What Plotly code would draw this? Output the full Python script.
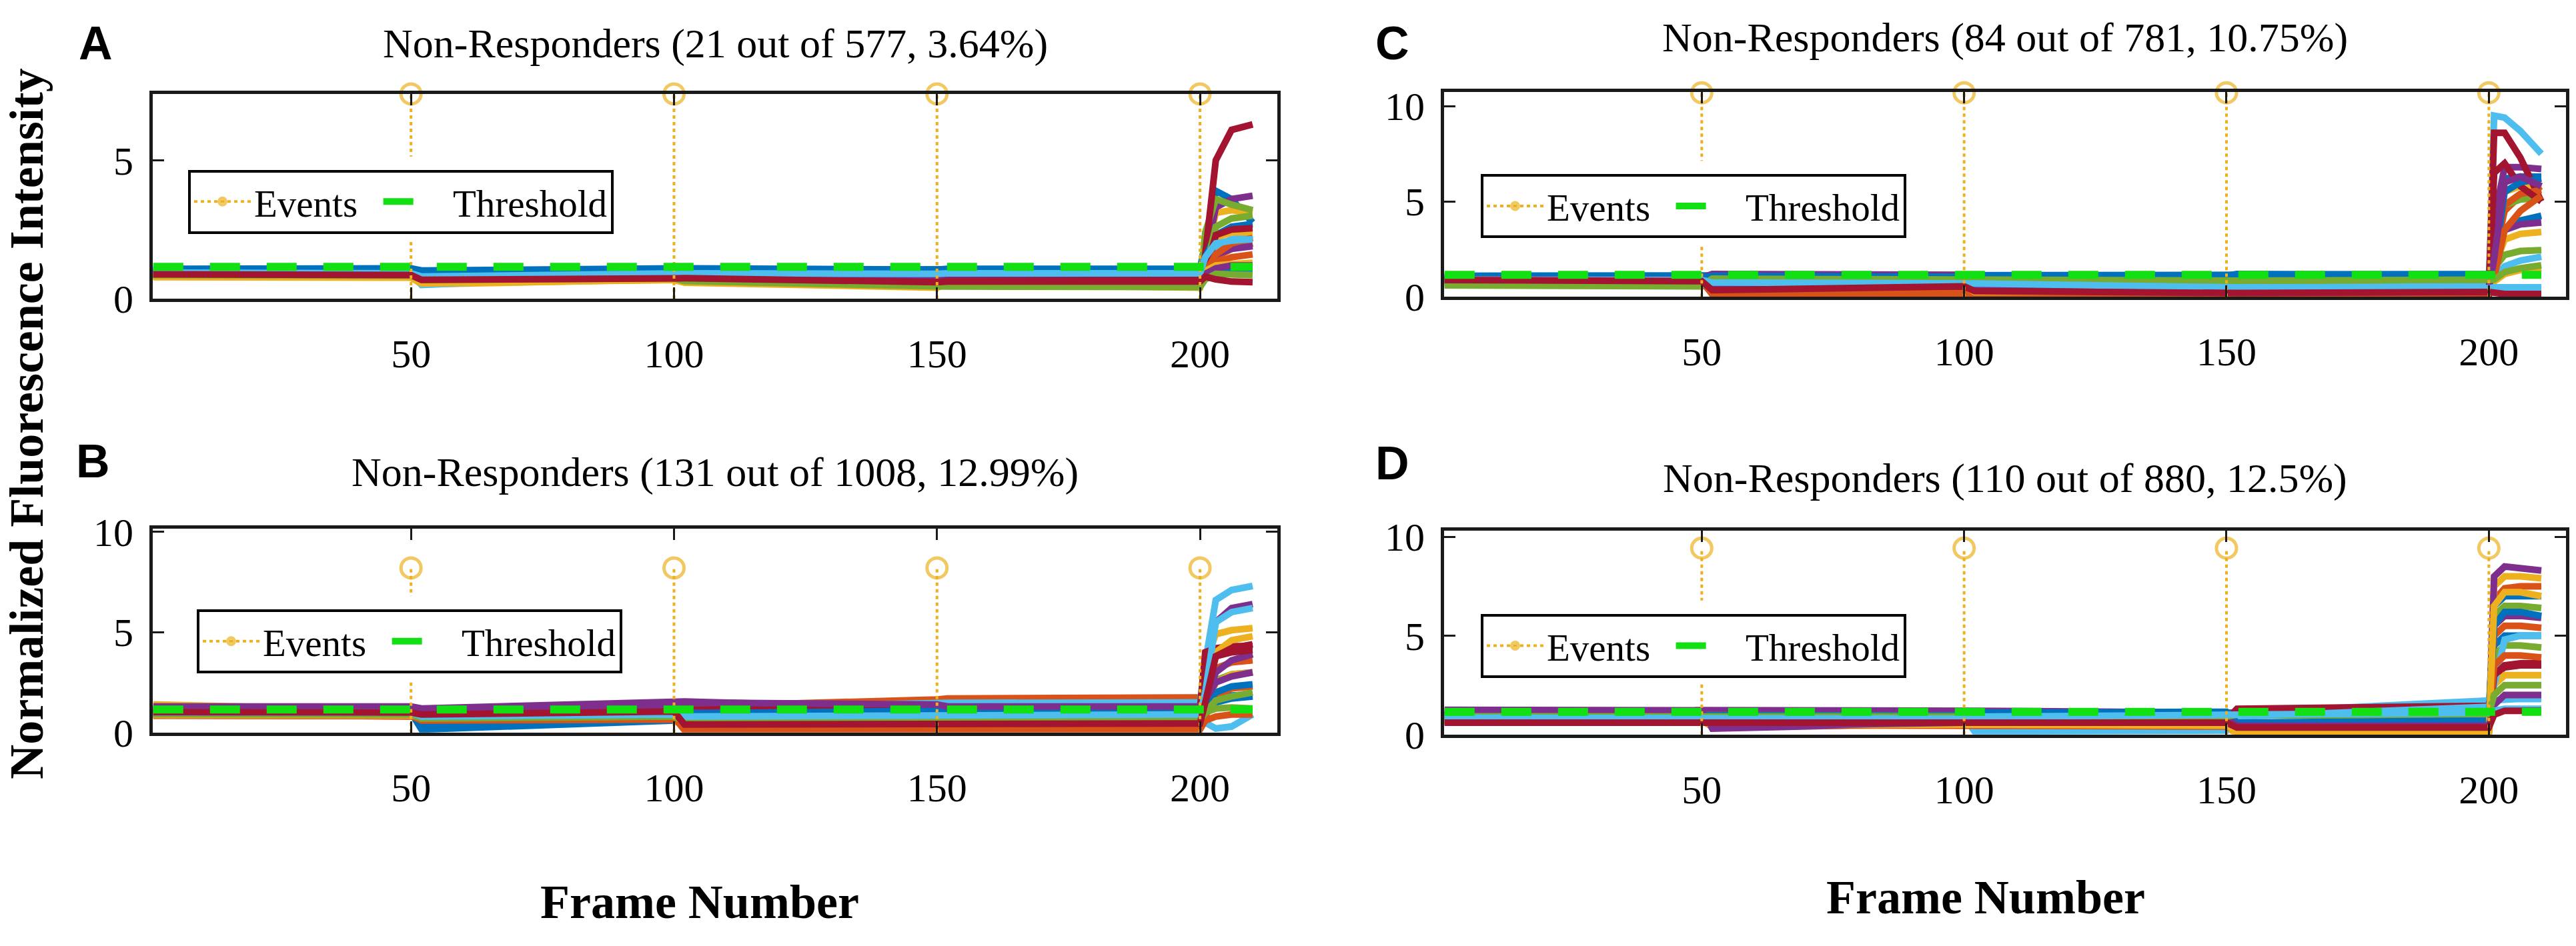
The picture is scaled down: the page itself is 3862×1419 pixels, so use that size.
import plotly.graph_objects as go

W, H = 3862, 1419

FRAMES = [1, 50, 52, 100, 102, 150, 152, 200, 201, 203, 206, 210]
EVENTS = [50, 100, 150, 200]
THRESHOLD = 1.15

LETTERS = ["A", "B", "C", "D"]
TITLES = [
    "Non-Responders (21 out of 577, 3.64%)",
    "Non-Responders (131 out of 1008, 12.99%)",
    "Non-Responders (84 out of 781, 10.75%)",
    "Non-Responders (110 out of 880, 12.5%)",
]
Y_MAX = [7.4, 10.17, 10.74, 10.3]
EVENT_HEIGHT = [7.4, 8.2, 10.7, 9.43]

# normalized intensity of each cell at FRAMES
A_TRACES = [
    [1.08, 1.10, 1.02, 1.05, 1.10, 1.05, 1.08, 1.08, 2.0, 3.9, 3.6, 2.75],
    [0.85, 0.84, 0.72, 0.78, 0.74, 0.56, 0.60, 0.52, 0.9, 1.5, 1.8, 2.0],
    [0.80, 0.78, 0.52, 0.70, 0.60, 0.42, 0.55, 0.42, 1.5, 3.1, 3.2, 3.1],
    [0.95, 0.95, 0.88, 0.95, 0.86, 0.72, 0.74, 0.72, 1.4, 3.3, 3.6, 3.72],
    [0.90, 0.88, 0.75, 0.80, 0.70, 0.48, 0.50, 0.50, 2.4, 3.6, 3.4, 3.2],
    [0.96, 0.94, 0.50, 0.86, 0.90, 0.92, 0.95, 0.95, 1.3, 1.9, 2.15, 2.3],
    [0.92, 0.90, 0.72, 0.82, 0.78, 0.68, 0.70, 0.70, 1.6, 5.0, 6.1, 6.3],
    [1.02, 1.02, 0.92, 0.96, 0.96, 0.90, 0.92, 0.96, 1.5, 2.3, 2.6, 2.7],
    [0.82, 0.80, 0.66, 0.72, 0.66, 0.50, 0.52, 0.50, 0.8, 1.3, 1.5, 1.6],
    [0.84, 0.80, 0.60, 0.72, 0.68, 0.45, 0.50, 0.46, 1.2, 2.2, 2.4, 2.4],
    [0.93, 0.92, 0.80, 0.90, 0.82, 0.65, 0.68, 0.66, 1.0, 1.6, 1.8, 1.9],
    [0.88, 0.86, 0.70, 0.76, 0.66, 0.44, 0.46, 0.45, 1.0, 2.6, 2.9, 3.0],
    [0.92, 0.90, 0.85, 0.90, 0.95, 0.96, 0.98, 0.98, 1.0, 1.05, 1.02, 1.0],
    [0.90, 0.88, 0.70, 0.80, 0.76, 0.64, 0.66, 0.66, 0.9, 2.3, 2.5, 2.55],
    [1.05, 1.06, 0.98, 1.02, 1.06, 1.04, 1.06, 1.06, 1.1, 1.12, 1.1, 1.1],
    [0.80, 0.78, 0.62, 0.70, 0.62, 0.46, 0.50, 0.46, 0.9, 1.6, 2.0, 2.2],
    [0.78, 0.76, 0.55, 0.68, 0.58, 0.40, 0.52, 0.40, 1.0, 1.2, 1.25, 1.3],
    [0.90, 0.90, 0.78, 0.86, 0.80, 0.62, 0.64, 0.62, 0.9, 1.1, 1.2, 1.2],
    [0.86, 0.84, 0.68, 0.74, 0.64, 0.42, 0.44, 0.42, 0.7, 0.9, 0.9, 0.85],
    [0.94, 0.92, 0.80, 0.88, 0.92, 0.90, 0.92, 0.92, 1.5, 2.0, 2.1, 2.15],
    [0.88, 0.86, 0.68, 0.78, 0.74, 0.60, 0.62, 0.62, 0.8, 0.7, 0.62, 0.6],
]
B_TRACES = [
    [1.00, 1.00, 0.15, 0.60, 0.90, 1.00, 1.05, 1.10, 1.3, 1.7, 1.85, 1.9],
    [0.90, 0.85, 0.80, 0.95, 1.30, 1.65, 1.70, 1.75, 2.2, 3.2, 3.5, 3.6],
    [1.40, 1.10, 1.00, 1.05, 1.10, 1.10, 1.12, 1.10, 3.5, 4.9, 5.1, 5.2],
    [1.30, 1.30, 1.20, 1.50, 1.55, 1.20, 1.20, 1.20, 3.0, 5.5, 6.2, 6.4],
    [1.00, 1.00, 0.90, 0.95, 0.85, 0.90, 0.95, 1.00, 1.5, 2.6, 2.9, 3.0],
    [1.10, 1.10, 1.00, 1.10, 1.20, 1.45, 1.48, 1.50, 3.5, 6.6, 7.1, 7.3],
    [1.05, 1.05, 0.95, 1.10, 1.15, 1.20, 1.20, 1.20, 4.0, 4.2, 4.3, 4.3],
    [0.95, 0.95, 0.40, 0.70, 0.50, 0.60, 0.65, 0.70, 1.0, 1.5, 1.7, 1.8],
    [0.85, 0.84, 0.60, 0.65, 0.30, 0.30, 0.32, 0.30, 0.8, 1.8, 2.2, 2.3],
    [0.90, 0.90, 0.70, 0.80, 0.60, 0.50, 0.50, 0.50, 1.2, 2.5, 2.9, 3.0],
    [1.20, 1.20, 1.10, 1.30, 1.00, 1.00, 1.02, 1.00, 1.5, 3.0, 3.6, 3.9],
    [0.95, 0.95, 0.75, 0.85, 0.75, 0.80, 0.80, 0.80, 1.0, 1.2, 1.25, 1.2],
    [1.05, 1.00, 0.90, 1.00, 0.90, 0.95, 0.95, 0.90, 0.5, 0.2, 0.3, 0.9],
    [1.10, 1.10, 1.00, 1.20, 0.60, 0.70, 0.70, 0.75, 2.5, 3.8, 4.0, 4.1],
    [1.00, 1.00, 0.90, 1.05, 0.95, 1.10, 1.10, 1.10, 1.2, 2.0, 2.3, 2.4],
    [0.84, 0.82, 0.70, 0.75, 0.12, 0.15, 0.15, 0.15, 0.6, 0.8, 0.9, 0.9],
    [0.88, 0.86, 0.75, 0.80, 0.70, 0.75, 0.78, 0.80, 2.0, 4.0, 4.6, 4.8],
    [1.15, 1.15, 1.05, 1.25, 1.50, 1.40, 1.30, 1.30, 1.6, 2.5, 2.8, 3.0],
    [0.92, 0.90, 0.70, 0.80, 0.55, 0.60, 0.60, 0.60, 1.0, 1.6, 1.8, 2.0],
    [1.00, 1.00, 0.80, 0.90, 0.80, 0.85, 0.88, 0.90, 2.0, 5.5, 6.0, 6.2],
    [1.02, 1.00, 0.90, 1.05, 0.40, 0.45, 0.45, 0.45, 1.5, 3.8, 4.2, 4.4],
]
C_TRACES = [
    [1.10, 1.10, 1.15, 1.12, 1.10, 1.10, 1.15, 1.20, 4.0, 6.2, 6.3, 6.3],
    [0.90, 0.85, 0.12, 0.15, 0.20, 0.20, 0.30, 1.00, 2.0, 4.5, 5.3, 5.8],
    [0.85, 0.80, 0.70, 0.75, 0.15, 0.20, 0.50, 0.60, 2.5, 5.5, 5.8, 5.9],
    [1.00, 1.00, 1.20, 1.15, 1.05, 1.00, 1.00, 1.00, 4.0, 6.8, 6.8, 6.7],
    [0.60, 0.55, 0.90, 0.95, 1.00, 0.95, 0.90, 0.90, 2.0, 4.8, 5.1, 5.2],
    [0.90, 0.85, 0.80, 0.80, 0.75, 0.60, 0.45, 0.50, 9.5, 9.4, 8.7, 7.5],
    [0.90, 0.85, 0.40, 0.65, 0.35, 0.30, 0.30, 0.30, 8.6, 8.6, 7.3, 5.0],
    [1.05, 1.00, 1.10, 1.05, 1.05, 1.10, 1.20, 1.15, 2.5, 3.6, 4.0, 4.25],
    [0.85, 0.80, 0.45, 0.50, 0.20, 0.30, 0.35, 0.35, 1.5, 4.8, 5.4, 5.6],
    [0.80, 0.78, 0.50, 0.55, 0.30, 0.25, 0.30, 0.30, 1.5, 3.0, 3.3, 3.4],
    [0.95, 0.90, 0.30, 0.40, 0.30, 0.20, 0.15, 0.15, 2.0, 3.5, 3.8, 3.9],
    [0.70, 0.65, 1.00, 1.00, 0.90, 0.85, 0.80, 0.85, 1.5, 2.2, 2.4, 2.45],
    [0.95, 0.90, 0.85, 0.85, 0.80, 0.70, 0.50, 0.55, 1.0, 1.6, 1.9, 2.1],
    [0.85, 0.80, 0.30, 0.45, 0.40, 0.35, 0.10, 0.15, 6.5, 7.0, 5.8, 5.0],
    [1.00, 0.95, 1.05, 1.00, 1.10, 1.05, 1.10, 1.10, 1.5, 5.5, 6.0, 6.2],
    [0.80, 0.75, 0.20, 0.25, 0.10, 0.15, 0.20, 0.20, 1.0, 3.5, 4.5, 5.3],
    [0.75, 0.70, 0.60, 0.60, 0.25, 0.30, 0.35, 0.40, 0.8, 1.2, 1.4, 1.5],
    [0.92, 0.90, 0.50, 0.55, 0.45, 0.40, 0.35, 0.40, 2.0, 6.0, 6.3, 5.8],
    [0.65, 0.60, 0.95, 0.90, 0.85, 0.80, 0.85, 0.90, 0.9, 1.3, 1.5, 1.65],
    [0.90, 0.88, 0.75, 0.75, 0.70, 0.50, 0.40, 0.45, 0.5, 0.5, 0.5, 0.5],
    [0.88, 0.82, 0.35, 0.55, 0.30, 0.20, 0.20, 0.25, 0.2, 0.15, 0.15, 0.15],
]
D_TRACES = [
    [1.00, 1.00, 0.95, 1.00, 1.10, 1.15, 1.10, 1.10, 6.5, 7.0, 7.0, 7.0],
    [0.70, 0.65, 0.50, 0.55, 0.50, 0.45, 0.30, 0.30, 6.8, 7.4, 7.5, 7.5],
    [0.75, 0.70, 0.45, 0.50, 0.45, 0.40, 0.20, 0.20, 7.5, 8.0, 8.0, 7.9],
    [1.25, 1.25, 1.25, 1.25, 1.20, 1.10, 0.45, 0.45, 8.0, 8.5, 8.4, 8.3],
    [1.00, 0.95, 1.00, 0.95, 1.00, 1.00, 1.05, 1.10, 6.0, 6.5, 6.5, 6.4],
    [0.90, 0.90, 0.85, 0.90, 0.15, 0.20, 1.10, 1.75, 1.8, 1.8, 1.8, 1.8],
    [0.65, 0.65, 0.60, 0.65, 0.70, 0.75, 1.30, 1.45, 3.0, 3.4, 3.5, 3.5],
    [0.95, 0.95, 0.90, 0.90, 1.05, 1.10, 0.30, 0.35, 4.5, 5.0, 5.0, 5.0],
    [0.68, 0.65, 0.55, 0.52, 0.60, 0.55, 0.10, 0.10, 5.0, 5.5, 5.5, 5.4],
    [0.72, 0.70, 0.40, 0.50, 0.40, 0.35, 0.05, 0.05, 2.5, 3.0, 3.0, 3.0],
    [1.20, 1.20, 0.30, 0.60, 0.70, 0.65, 0.50, 0.50, 5.5, 6.0, 6.0, 5.9],
    [0.95, 0.95, 0.90, 0.85, 0.95, 0.95, 0.95, 1.00, 4.0, 4.5, 4.5, 4.4],
    [0.88, 0.88, 0.80, 0.85, 0.20, 0.25, 0.90, 1.40, 2.5, 4.8, 5.0, 5.0],
    [0.62, 0.62, 0.55, 0.60, 0.65, 0.70, 0.40, 0.40, 3.0, 3.5, 3.6, 3.6],
    [0.98, 0.98, 0.92, 0.95, 1.10, 1.15, 0.60, 0.70, 5.5, 6.2, 6.2, 6.0],
    [0.66, 0.64, 0.50, 0.50, 0.45, 0.40, 0.20, 0.25, 3.5, 4.0, 4.0, 3.9],
    [0.70, 0.68, 0.50, 0.55, 0.50, 0.45, 0.15, 0.15, 6.5, 7.2, 7.2, 7.0],
    [1.15, 1.15, 0.40, 0.60, 0.80, 0.80, 0.45, 0.45, 1.5, 2.0, 2.0, 2.0],
    [0.92, 0.92, 0.85, 0.85, 0.90, 0.90, 1.00, 1.05, 2.0, 2.5, 2.5, 2.5],
    [0.85, 0.85, 0.80, 0.80, 0.90, 0.95, 1.00, 1.10, 1.2, 1.3, 1.3, 1.3],
    [0.60, 0.60, 0.55, 0.60, 0.60, 0.60, 0.35, 0.35, 1.0, 1.2, 1.2, 1.2],
]
PANEL_TRACES = [A_TRACES, B_TRACES, C_TRACES, D_TRACES]

# matlab default line colours
COLORS = ["#0072BD", "#D95319", "#EDB120", "#7E2F8E", "#77AC30", "#4DBEEE", "#A2142F"]
EVENT_COLOR = "#EDB120"
THRESH_COLOR = "#12E012"
SERIF = "Liberation Serif"

# pixel boxes of the four axes: left, right, top, bottom
BOXES = [(229, 1915, 119, 440), (229, 1915, 800, 1120),
         (2165, 3847, 116, 437), (2165, 3847, 804, 1123)]
LEGEND_POS = [(282, 238), (295, 927), (2220, 245), (2220, 934)]
TITLE_POS = [(1072, 40), (1072, 712), (3006, 31), (3006, 722)]
LETTER_POS = [(143, 40), (139, 695), (2087, 40), (2087, 698)]


def px(x):
    return x / W


def py(y):
    return 1 - y / H


fig = go.Figure()
layout = {}
annotations = []
shapes = []

for p in range(4):
    n = "" if p == 0 else str(p + 1)
    xa, ya = "x" + n, "y" + n
    lg = "legend" + n

    for i, vals in enumerate(PANEL_TRACES[p]):
        fig.add_trace(go.Scatter(x=FRAMES, y=vals, mode="lines", xaxis=xa, yaxis=ya,
                                 line=dict(color=COLORS[i % 7], width=10),
                                 showlegend=False, hoverinfo="skip"))

    ex, ey, es = [], [], []
    for e in EVENTS:
        ex += [e, e, None]
        ey += [0, EVENT_HEIGHT[p], None]
        es += [0, 30, 0]
    fig.add_trace(go.Scatter(x=ex, y=ey, mode="lines+markers", name="Events\u00a0\u00a0",
                             xaxis=xa, yaxis=ya, legend=lg, cliponaxis=False,
                             line=dict(color=EVENT_COLOR, width=4, dash="5px,5px"),
                             marker=dict(symbol="circle-open", size=es, color=EVENT_COLOR,
                                         line=dict(width=5, color=EVENT_COLOR))))
    fig.add_trace(go.Scatter(x=[FRAMES[0], FRAMES[-1]], y=[THRESHOLD, THRESHOLD],
                             mode="lines", name="\u00a0Threshold", xaxis=xa, yaxis=ya,
                             legend=lg,
                             line=dict(color=THRESH_COLOR, width=12, dash="45px,40px")))

    l, r, t, b = BOXES[p]
    axis_common = dict(showline=True, linewidth=5, linecolor="#1a1a1a", mirror="ticks",
                       ticks="inside", ticklen=17, tickwidth=3, tickcolor="#1a1a1a",
                       showgrid=False, zeroline=False,
                       tickfont=dict(family=SERIF, size=60, color="black"))
    layout["xaxis" + n] = dict(axis_common, domain=[px(l), px(r)], anchor=ya,
                               range=[0.9, 214.7], tickvals=EVENTS, ticklabelstandoff=26)
    layout["yaxis" + n] = dict(axis_common, domain=[py(b), py(t)], anchor=xa,
                               range=[0, Y_MAX[p]], tick0=0, dtick=5, ticklabelstandoff=12)

    lx, ly = LEGEND_POS[p]
    layout[lg] = dict(x=px(lx), y=py(ly), xanchor="left", yanchor="top", orientation="h",
                      bgcolor="white", bordercolor="black", borderwidth=4, itemwidth=85,
                      font=dict(family=SERIF, size=57, color="black"))
    # the legend hides the event line a bit beyond its frame
    shapes.append(dict(type="rect", xref="paper", yref="paper", layer="above",
                       x0=px(lx), x1=px(lx + 650), y0=py(ly + 110), y1=py(ly - 21),
                       fillcolor="white", line=dict(width=0)))

    tx, ty = TITLE_POS[p]
    annotations.append(dict(text=TITLES[p], x=px(tx), y=py(ty), xref="paper", yref="paper",
                            showarrow=False, xanchor="center", yanchor="middle",
                            font=dict(family=SERIF, size=62, color="black")))
    cx, cy = LETTER_POS[p]
    annotations.append(dict(text="<b>" + LETTERS[p] + "</b>", x=px(cx), y=py(cy),
                            xref="paper", yref="paper", showarrow=False,
                            xanchor="center", yanchor="middle",
                            font=dict(family="Liberation Sans", size=70, color="black")))

for cx, cy in [(1049, 1386), (2977, 1378)]:
    annotations.append(dict(text="<b>Frame Number</b>", x=px(cx), y=py(cy), xref="paper",
                            yref="paper", showarrow=False, xanchor="center", yanchor="middle",
                            font=dict(family=SERIF, size=72, color="black")))
annotations.append(dict(text="<b>Normalized Fluorescence Intensity</b>", x=px(40), y=py(636),
                        xref="paper", yref="paper", showarrow=False, textangle=-90,
                        xanchor="center", yanchor="middle",
                        font=dict(family=SERIF, size=72, color="black")))

fig.update_layout(width=W, height=H, margin=dict(l=0, r=0, t=0, b=0),
                  paper_bgcolor="white", plot_bgcolor="white",
                  annotations=annotations, shapes=shapes, **layout)

fig.write_html("out.html", config={"displayModeBar": False},
               post_script="document.body.style.margin='0';")
